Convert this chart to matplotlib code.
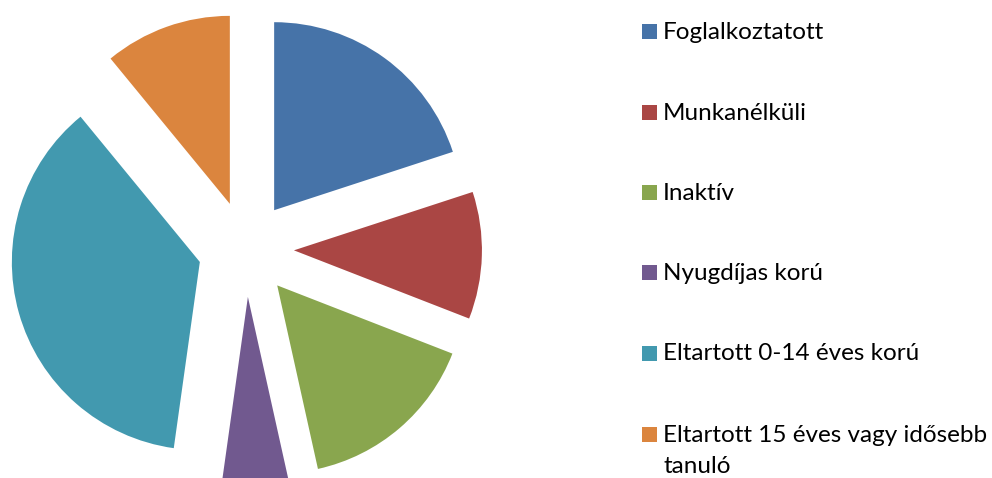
import matplotlib
matplotlib.use("Agg")
import matplotlib.pyplot as plt
from matplotlib.patches import Rectangle

categories = ["Foglalkoztatott", "Munkanélküli", "Inaktív", "Nyugdíjas korú",
              "Eltartott 0-14 éves korú", "Eltartott 15 éves vagy idősebb\ntanuló"]
values = [19.97, 10.93, 15.61, 5.69, 36.83, 10.94]
colors = ["#4673A8", "#AA4644", "#89A64E", "#71598F", "#4299AF", "#DB853E"]

W, H = 992, 478
fig = plt.figure(figsize=(W / 100, H / 100), dpi=100)
ax = fig.add_axes([0, 0, 1, 1])

R = 188.0
cx, cy = 246.0, H - 249.0
ax.pie(values, colors=colors, startangle=90, counterclock=False,
       explode=[0.255] * len(values), radius=1.0,
       wedgeprops=dict(linewidth=0), frame=False)
ax.set_xlim(-cx / R, (W - cx) / R)
ax.set_ylim(-cy / R, (H - cy) / R)
ax.axis("off")

font = "Lato"
baselines = [39.0, 119.5, 199.5, 280.0, 360.5, 441.7]
for lab, col, y in zip(categories, colors, baselines):
    fig.patches.append(Rectangle((642 / W, 1 - y / H), 15 / W, 15 / H,
                                 transform=fig.transFigure, facecolor=col,
                                 edgecolor="none"))
    lines = lab.split("\n")
    for i, line in enumerate(lines):
        fig.text(663 / W, 1 - (y + 31.5 * i) / H, line, ha="left", va="baseline",
                 fontsize=17.5, family=font, color="#000000")

fig.savefig("out.png", dpi=100)
